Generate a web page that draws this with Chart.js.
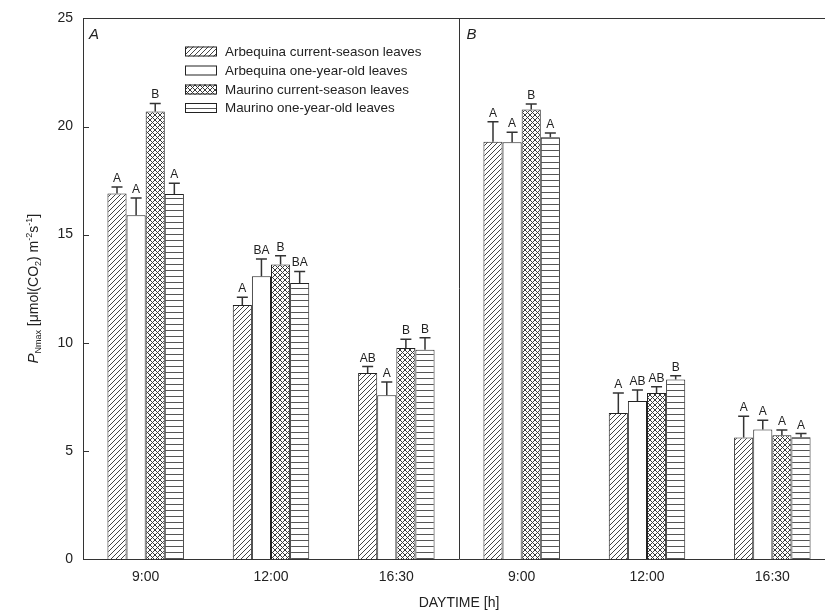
<!DOCTYPE html>
<html>
<head>
<meta charset="utf-8">
<script src="https://cdn.jsdelivr.net/npm/chart.js@4"></script>
<style>
  html, body { margin: 0; padding: 0; background: #fff; overflow: hidden; width: 825px; height: 616px; }
  canvas { display: block; }
</style>
</head>
<body>
<canvas id="chart" width="840" height="616"></canvas>
<script>
// Pnmax of olive leaves, two panels (A, B), three times of day each
const categories = ['9:00', '12:00', '16:30', '9:00', '12:00', '16:30'];
const yTicks = [0, 5, 10, 15, 20, 25];
const seriesNames = [
  'Arbequina current-season leaves',
  'Arbequina one-year-old leaves',
  'Maurino current-season leaves',
  'Maurino one-year-old leaves'
];

const arbCurrent = [16.9, 11.75, 8.6, 19.3, 6.75, 5.62];
const arbCurrentErr = [0.3, 0.35, 0.3, 0.92, 0.93, 0.98];
const arbCurrentSig = ['A', 'A', 'AB', 'A', 'A', 'A'];

const arbOld = [15.9, 13.07, 7.57, 19.27, 7.31, 5.99];
const arbOldErr = [0.8, 0.8, 0.62, 0.46, 0.5, 0.43];
const arbOldSig = ['A', 'BA', 'A', 'A', 'AB', 'A'];

const maurCurrent = [20.7, 13.62, 9.76, 20.79, 7.68, 5.72];
const maurCurrentErr = [0.37, 0.4, 0.4, 0.25, 0.28, 0.24];
const maurCurrentSig = ['B', 'B', 'B', 'B', 'AB', 'A'];

const maurOld = [16.88, 12.76, 9.68, 19.5, 8.3, 5.63];
const maurOldErr = [0.5, 0.54, 0.55, 0.2, 0.18, 0.17];
const maurOldSig = ['A', 'BA', 'B', 'A', 'B', 'A'];

const FONT = '"Liberation Sans", Arial, sans-serif';
const INK = '#222';

// fill patterns
function makePattern(size, draw) {
  const c = document.createElement('canvas');
  c.width = size; c.height = size;
  const g = c.getContext('2d');
  g.fillStyle = '#fff';
  g.fillRect(0, 0, size, size);
  draw(g, size);
  return g.createPattern(c, 'repeat');
}
const hatch = makePattern(5, (g, s) => {
  g.strokeStyle = '#444'; g.lineWidth = 1;
  g.beginPath();
  g.moveTo(0, s); g.lineTo(s, 0);
  g.moveTo(-1, 1); g.lineTo(1, -1);
  g.moveTo(s - 1, s + 1); g.lineTo(s + 1, s - 1);
  g.stroke();
});
const cross = makePattern(5, (g, s) => {
  g.strokeStyle = '#3a3a3a'; g.lineWidth = 1;
  g.beginPath();
  g.moveTo(0, s); g.lineTo(s, 0);
  g.moveTo(0, 0); g.lineTo(s, s);
  g.stroke();
});
const horiz = makePattern(6, (g, s) => {
  g.fillStyle = '#555';
  g.fillRect(0, 0, s, 1);
});
const fills = [hatch, '#fff', cross, horiz];

const errs = [arbCurrentErr, arbOldErr, maurCurrentErr, maurOldErr];
const sigs = [arbCurrentSig, arbOldSig, maurCurrentSig, maurOldSig];

// error bars, letters, frame, legend, axis title
const extras = {
  id: 'extras',
  afterDatasetsDraw(chart) {
    const ctx = chart.ctx;
    const y = chart.scales.y, x = chart.scales.x;
    const area = chart.chartArea;

    ctx.save();
    chart.data.datasets.forEach((ds, di) => {
      const meta = chart.getDatasetMeta(di);
      meta.data.forEach((bar, i) => {
        const top = y.getPixelForValue(ds.data[i] + errs[di][i]);
        const base = y.getPixelForValue(ds.data[i]);
        ctx.strokeStyle = '#333';
        ctx.lineWidth = 1.5;
        ctx.beginPath();
        ctx.moveTo(bar.x, base);
        ctx.lineTo(bar.x, top);
        ctx.moveTo(bar.x - 5.5, top);
        ctx.lineTo(bar.x + 5.5, top);
        ctx.stroke();
        ctx.fillStyle = INK;
        ctx.font = '12px ' + FONT;
        ctx.textAlign = 'center';
        ctx.textBaseline = 'alphabetic';
        ctx.fillText(sigs[di][i], bar.x, top - 5);
      });
    });

    // top frame and panel divider
    ctx.strokeStyle = '#333';
    ctx.lineWidth = 1;
    const mid = Math.round((x.getPixelForValue(2) + x.getPixelForValue(3)) / 2) + 0.5;
    ctx.beginPath();
    ctx.moveTo(area.left, Math.round(area.top) + 0.5);
    ctx.lineTo(area.right, Math.round(area.top) + 0.5);
    ctx.moveTo(mid, area.top);
    ctx.lineTo(mid, area.bottom);
    // inward ticks
    [5, 10, 15, 20].forEach(v => {
      const py = Math.round(y.getPixelForValue(v)) + 0.5;
      ctx.moveTo(area.left, py);
      ctx.lineTo(area.left + 6, py);
    });
    ctx.stroke();

    // panel letters
    ctx.fillStyle = INK;
    ctx.font = 'italic 15px ' + FONT;
    ctx.textAlign = 'left';
    ctx.fillText('A', area.left + 6, area.top + 21);
    ctx.fillText('B', mid + 7, area.top + 21);

    // legend
    const rows = [46.5, 65.5, 84.5, 103];
    ctx.font = '13.4px ' + FONT;
    ctx.textBaseline = 'middle';
    seriesNames.forEach((name, i) => {
      ctx.fillStyle = fills[i];
      ctx.fillRect(185, rows[i], 32, 10);
      ctx.strokeStyle = '#222';
      ctx.strokeRect(185.5, rows[i] + 0.5, 31, 9);
      ctx.fillStyle = INK;
      ctx.fillText(name, 225, rows[i] + 5.5);
    });

    // y axis title with sub/superscripts
    const parts = [
      { t: 'P', f: 'italic 15px ', dy: 0 },
      { t: 'Nmax', f: '9px ', dy: 3 },
      { t: ' [\u03bcmol(CO', f: '14px ', dy: 0 },
      { t: '2', f: '9px ', dy: 3 },
      { t: ') m', f: '14px ', dy: 0 },
      { t: '-2', f: '9px ', dy: -6 },
      { t: 's', f: '14px ', dy: 0 },
      { t: '-1', f: '9px ', dy: -6 },
      { t: ']', f: '14px ', dy: 0 }
    ];
    let total = 0;
    parts.forEach(p => { ctx.font = p.f + FONT; p.w = ctx.measureText(p.t).width; total += p.w; });
    ctx.translate(32, (area.top + area.bottom) / 2);
    ctx.rotate(-Math.PI / 2);
    ctx.textAlign = 'left';
    ctx.textBaseline = 'alphabetic';
    let cx = -total / 2;
    parts.forEach(p => {
      ctx.font = p.f + FONT;
      ctx.fillText(p.t, cx, 6 + p.dy);
      cx += p.w;
    });
    ctx.restore();
  }
};

new Chart(document.getElementById('chart'), {
  type: 'bar',
  data: {
    labels: categories,
    datasets: [arbCurrent, arbOld, maurCurrent, maurOld].map((d, i) => ({
      label: seriesNames[i],
      data: d,
      backgroundColor: fills[i],
      borderColor: '#222',
      borderWidth: 1,
      barPercentage: 1.0,
      categoryPercentage: 0.61
    }))
  },
  options: {
    responsive: false,
    animation: false,
    layout: { padding: { top: 17, right: 5, left: 0, bottom: 0 } },
    plugins: { legend: { display: false }, tooltip: { enabled: false } },
    scales: {
      x: {
        grid: { display: false, drawTicks: false },
        border: { display: true, color: '#333' },
        ticks: { color: INK, font: { size: 14, family: FONT }, padding: 10, maxRotation: 0, autoSkip: false },
        title: { display: true, text: 'DAYTIME [h]', color: INK, font: { size: 14, family: FONT }, padding: { top: 0, bottom: 4 } },
        afterFit(s) { s.height = 57; }
      },
      y: {
        min: 0, max: 25,
        afterBuildTicks(s) { s.ticks = yTicks.map(v => ({ value: v })); },
        grid: { display: false, drawTicks: false },
        border: { display: true, color: '#333' },
        ticks: { color: INK, font: { size: 14, family: FONT }, padding: 10 },
        afterFit(s) { s.width = 83; }
      }
    }
  },
  plugins: [extras]
});
</script>
</body>
</html>
